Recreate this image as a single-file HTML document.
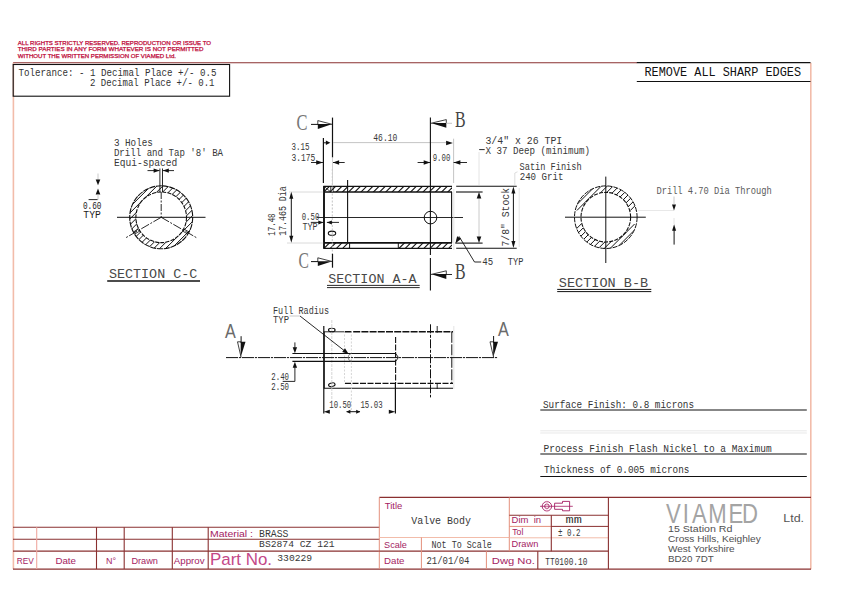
<!DOCTYPE html>
<html><head><meta charset="utf-8"><title>Valve Body TT0100.10</title>
<style>
html,body{margin:0;padding:0;background:#fff;}
body{width:842px;height:595px;overflow:hidden;}
svg{display:block;}
text{white-space:pre;}
</style></head><body>
<svg width="842" height="595" viewBox="0 0 842 595">
<rect x="0" y="0" width="842" height="595" fill="#fff"/>
<line x1="13.0" y1="62.7" x2="637.0" y2="62.7" stroke="#8a3030" stroke-width="1.1"/>
<line x1="13.4" y1="62.7" x2="13.4" y2="569.0" stroke="#f2bcaa" stroke-width="1.6"/>
<line x1="810.8" y1="62.7" x2="810.8" y2="569.3" stroke="#f2bcaa" stroke-width="1.6"/>
<line x1="13.0" y1="569.1" x2="811.0" y2="569.1" stroke="#8a3030" stroke-width="1.2"/>
<text x="17.8" y="44.8" font-family='"Liberation Sans", sans-serif' font-size="5.5" fill="#c01040" textLength="193.2" lengthAdjust="spacingAndGlyphs" stroke="#c01040" stroke-width="0.25">ALL RIGHTS STRICTLY RESERVED. REPRODUCTION OR ISSUE TO</text>
<text x="17.8" y="51.1" font-family='"Liberation Sans", sans-serif' font-size="5.5" fill="#c01040" textLength="185.7" lengthAdjust="spacingAndGlyphs" stroke="#c01040" stroke-width="0.25">THIRD PARTIES IN ANY FORM WHATEVER IS NOT PERMITTED</text>
<text x="17.8" y="57.6" font-family='"Liberation Sans", sans-serif' font-size="5.5" fill="#c01040" textLength="158.2" lengthAdjust="spacingAndGlyphs" stroke="#c01040" stroke-width="0.25">WITHOUT THE WRITTEN PERMISSION OF VIAMED Ltd.</text>
<rect x="13.2" y="64.5" width="216.4" height="31.7" fill="none" stroke="#111" stroke-width="1.1"/>
<text x="18.5" y="75.8" font-family='"Liberation Mono", monospace' font-size="10" fill="#333" textLength="198.0" lengthAdjust="spacingAndGlyphs">Tolerance: - 1 Decimal Place +/- 0.5</text>
<text x="90.0" y="85.8" font-family='"Liberation Mono", monospace' font-size="10" fill="#333" textLength="124.5" lengthAdjust="spacingAndGlyphs">2 Decimal Place +/- 0.1</text>
<line x1="636.8" y1="62.6" x2="810.5" y2="62.6" stroke="#111" stroke-width="1.1"/>
<line x1="636.8" y1="81.5" x2="810.5" y2="81.5" stroke="#111" stroke-width="1.1"/>
<text x="644.5" y="76.1" font-family='"Liberation Mono", monospace' font-size="12" fill="#111" textLength="156.5" lengthAdjust="spacingAndGlyphs">REMOVE ALL SHARP EDGES</text>
<line x1="13.0" y1="527.2" x2="379.5" y2="527.2" stroke="#8a3030" stroke-width="1.1"/>
<line x1="13.0" y1="539.2" x2="379.5" y2="539.2" stroke="#8a3030" stroke-width="1.1"/>
<line x1="13.0" y1="551.1" x2="379.5" y2="551.1" stroke="#8a3030" stroke-width="1.1"/>
<line x1="36.7" y1="527.2" x2="36.7" y2="569.0" stroke="#f0a8a0" stroke-width="1.1"/>
<line x1="96.5" y1="527.2" x2="96.5" y2="569.0" stroke="#8a3030" stroke-width="1.1"/>
<line x1="124.2" y1="527.2" x2="124.2" y2="569.0" stroke="#8a3030" stroke-width="1.1"/>
<line x1="172.3" y1="527.2" x2="172.3" y2="569.0" stroke="#8a3030" stroke-width="1.1"/>
<line x1="208.2" y1="527.2" x2="208.2" y2="569.0" stroke="#8a3030" stroke-width="1.1"/>
<text x="16.7" y="563.6" font-family='"Liberation Sans", sans-serif' font-size="9" fill="#a41c62" textLength="17.0" lengthAdjust="spacingAndGlyphs">REV</text>
<text x="55.4" y="563.6" font-family='"Liberation Sans", sans-serif' font-size="9" fill="#a41c62" textLength="20.6" lengthAdjust="spacingAndGlyphs">Date</text>
<text x="106.0" y="563.6" font-family='"Liberation Sans", sans-serif' font-size="9" fill="#a41c62" textLength="10.0" lengthAdjust="spacingAndGlyphs">N°</text>
<text x="131.4" y="563.6" font-family='"Liberation Sans", sans-serif' font-size="9" fill="#a41c62" textLength="26.5" lengthAdjust="spacingAndGlyphs">Drawn</text>
<text x="173.8" y="563.6" font-family='"Liberation Sans", sans-serif' font-size="9" fill="#a41c62" textLength="30.7" lengthAdjust="spacingAndGlyphs">Approv</text>
<text x="210.0" y="536.7" font-family='"Liberation Sans", sans-serif' font-size="9.4" fill="#a41c62" textLength="43.0" lengthAdjust="spacingAndGlyphs">Material :</text>
<text x="259.1" y="536.9" font-family='"Liberation Mono", monospace' font-size="10" fill="#383838" textLength="29.4" lengthAdjust="spacingAndGlyphs">BRASS</text>
<text x="259.1" y="547.0" font-family='"Liberation Mono", monospace' font-size="9.4" fill="#383838" textLength="75.6" lengthAdjust="spacingAndGlyphs">BS2874 CZ 121</text>
<text x="210.0" y="564.8" font-family='"Liberation Sans", sans-serif' font-size="16.3" fill="#c44888" textLength="62.0" lengthAdjust="spacingAndGlyphs">Part No.</text>
<text x="277.3" y="561.0" font-family='"Liberation Mono", monospace' font-size="8.8" fill="#383838" textLength="34.9" lengthAdjust="spacingAndGlyphs">330229</text>
<line x1="379.3" y1="497.4" x2="811.0" y2="497.4" stroke="#8a3030" stroke-width="1.2"/>
<line x1="379.3" y1="497.4" x2="379.3" y2="569.0" stroke="#e4907c" stroke-width="1"/>
<line x1="379.3" y1="537.5" x2="509.3" y2="537.5" stroke="#f2bcaa" stroke-width="1"/>
<line x1="379.3" y1="551.2" x2="608.4" y2="551.2" stroke="#8a3030" stroke-width="1.2"/>
<line x1="421.4" y1="537.5" x2="421.4" y2="569.0" stroke="#e4907c" stroke-width="1"/>
<line x1="486.4" y1="551.2" x2="486.4" y2="569.0" stroke="#e4907c" stroke-width="1"/>
<line x1="509.3" y1="497.4" x2="509.3" y2="551.2" stroke="#e4907c" stroke-width="1"/>
<line x1="509.3" y1="515.3" x2="608.4" y2="515.3" stroke="#8a3030" stroke-width="1.1"/>
<line x1="509.3" y1="526.4" x2="551.3" y2="526.4" stroke="#e4907c" stroke-width="1"/>
<line x1="551.3" y1="526.4" x2="608.4" y2="526.4" stroke="#8a3030" stroke-width="1"/>
<line x1="509.3" y1="537.8" x2="608.4" y2="537.8" stroke="#f2bcaa" stroke-width="1"/>
<line x1="551.3" y1="515.3" x2="551.3" y2="551.2" stroke="#8a3030" stroke-width="1.1"/>
<line x1="537.8" y1="551.2" x2="537.8" y2="569.0" stroke="#8a3030" stroke-width="1.1"/>
<line x1="608.4" y1="497.4" x2="608.4" y2="569.0" stroke="#8a3030" stroke-width="1.1"/>
<text x="384.8" y="508.6" font-family='"Liberation Sans", sans-serif' font-size="9.2" fill="#a41c62" textLength="17.6" lengthAdjust="spacingAndGlyphs">Title</text>
<text x="411.2" y="524.0" font-family='"Liberation Mono", monospace' font-size="10" fill="#383838" textLength="59.8" lengthAdjust="spacingAndGlyphs">Valve Body</text>
<text x="384.1" y="547.6" font-family='"Liberation Sans", sans-serif' font-size="9.2" fill="#a41c62" textLength="22.8" lengthAdjust="spacingAndGlyphs">Scale</text>
<text x="431.5" y="547.6" font-family='"Liberation Mono", monospace' font-size="10" fill="#383838" textLength="60.4" lengthAdjust="spacingAndGlyphs">Not To Scale</text>
<text x="384.1" y="563.6" font-family='"Liberation Sans", sans-serif' font-size="9.2" fill="#a41c62" textLength="20.4" lengthAdjust="spacingAndGlyphs">Date</text>
<text x="426.5" y="564.3" font-family='"Liberation Mono", monospace' font-size="10" fill="#383838" textLength="43.0" lengthAdjust="spacingAndGlyphs">21/01/04</text>
<text x="491.8" y="563.6" font-family='"Liberation Sans", sans-serif' font-size="9.4" fill="#a41c62" textLength="43.0" lengthAdjust="spacingAndGlyphs">Dwg No.</text>
<text x="545.3" y="564.5" font-family='"Liberation Mono", monospace' font-size="10" fill="#383838" textLength="42.0" lengthAdjust="spacingAndGlyphs">TT0100.10</text>
<text x="511.6" y="523.0" font-family='"Liberation Sans", sans-serif' font-size="9.2" fill="#a41c62" textLength="29.5" lengthAdjust="spacingAndGlyphs">Dim  in</text>
<text x="565.5" y="523.3" font-family='"Liberation Mono", monospace' font-size="10" fill="#383838" textLength="16.3" lengthAdjust="spacingAndGlyphs">mm</text>
<text x="512.3" y="535.3" font-family='"Liberation Sans", sans-serif' font-size="9.2" fill="#a41c62" textLength="11.0" lengthAdjust="spacingAndGlyphs">Tol</text>
<text x="558.0" y="535.7" font-family='"Liberation Mono", monospace' font-size="10" fill="#383838" textLength="22.4" lengthAdjust="spacingAndGlyphs">± 0.2</text>
<text x="511.6" y="546.8" font-family='"Liberation Sans", sans-serif' font-size="9.2" fill="#a41c62" textLength="26.7" lengthAdjust="spacingAndGlyphs">Drawn</text>
<circle cx="546.9" cy="506.3" r="4.7" stroke="#a41c62" stroke-width="0.9" fill="none"/>
<circle cx="546.9" cy="506.3" r="2.3" stroke="#a41c62" stroke-width="0.9" fill="none"/>
<line x1="540.0" y1="506.3" x2="572.8" y2="506.3" stroke="#a41c62" stroke-width="0.8"/>
<line x1="546.9" y1="500.5" x2="546.9" y2="512.3" stroke="#f0b0c8" stroke-width="0.7"/>
<path d="M554.6,503.2 L562.5,503.2 L562.5,501.4 L569.6,501.4 L569.6,510.8 L562.5,510.8 L562.5,509.3 L554.6,509.3 Z" stroke="#a41c62" stroke-width="0.9" fill="none"/>
<text transform="translate(666,522.5) scale(0.82,1)" x="0 20.4 31.7 51.4 76.3 92.8" y="0" font-family='"Liberation Sans", sans-serif' font-size="27" fill="#a4a4a4">VIAMED</text>
<text x="783.3" y="521.6" font-family='"Liberation Sans", sans-serif' font-size="11.8" fill="#555" textLength="20.8" lengthAdjust="spacingAndGlyphs">Ltd.</text>
<text x="668.0" y="531.9" font-family='"Liberation Sans", sans-serif' font-size="9.4" fill="#505050" textLength="64.4" lengthAdjust="spacingAndGlyphs">15 Station Rd</text>
<text x="668.0" y="542.1" font-family='"Liberation Sans", sans-serif' font-size="9.4" fill="#505050" textLength="92.8" lengthAdjust="spacingAndGlyphs">Cross Hills, Keighley</text>
<text x="668.0" y="552.3" font-family='"Liberation Sans", sans-serif' font-size="9.4" fill="#505050" textLength="66.7" lengthAdjust="spacingAndGlyphs">West Yorkshire</text>
<text x="668.0" y="561.7" font-family='"Liberation Sans", sans-serif' font-size="9.4" fill="#505050" textLength="45.7" lengthAdjust="spacingAndGlyphs">BD20 7DT</text>
<line x1="540.3" y1="410.0" x2="806.8" y2="410.0" stroke="#111" stroke-width="1.1"/>
<line x1="540.3" y1="430.8" x2="806.8" y2="430.8" stroke="#d8d8d8" stroke-width="0.6"/>
<line x1="540.3" y1="433.0" x2="806.8" y2="433.0" stroke="#d8d8d8" stroke-width="0.6"/>
<line x1="540.3" y1="454.0" x2="806.8" y2="454.0" stroke="#111" stroke-width="1.1"/>
<line x1="540.3" y1="476.5" x2="806.8" y2="476.5" stroke="#111" stroke-width="1.1"/>
<text x="543.0" y="408.0" font-family='"Liberation Mono", monospace' font-size="10" fill="#333" textLength="151.0" lengthAdjust="spacingAndGlyphs">Surface Finish: 0.8 microns</text>
<text x="543.6" y="451.5" font-family='"Liberation Mono", monospace' font-size="10" fill="#333" textLength="228.0" lengthAdjust="spacingAndGlyphs">Process Finish Flash Nickel to a Maximum</text>
<text x="544.1" y="472.8" font-family='"Liberation Mono", monospace' font-size="10" fill="#333" textLength="145.3" lengthAdjust="spacingAndGlyphs">Thickness of 0.005 microns</text>
<clipPath id="hcc"><path clip-rule="evenodd" d="M129.7,217.3 a31.5,31.5 0 1,0 63.0,0 a31.5,31.5 0 1,0 -63.0,0 Z M135.89999999999998,217.3 a25.3,25.3 0 1,0 50.6,0 a25.3,25.3 0 1,0 -50.6,0 Z"/></clipPath>
<g clip-path="url(#hcc)">
<line x1="127.7" y1="108.2" x2="194.7" y2="41.2" stroke="#111" stroke-width="1.0"/>
<line x1="127.7" y1="114.2" x2="194.7" y2="47.2" stroke="#111" stroke-width="1.0"/>
<line x1="127.7" y1="120.1" x2="194.7" y2="53.1" stroke="#111" stroke-width="1.0"/>
<line x1="127.7" y1="126.1" x2="194.7" y2="59.1" stroke="#111" stroke-width="1.0"/>
<line x1="127.7" y1="132.0" x2="194.7" y2="65.0" stroke="#111" stroke-width="1.0"/>
<line x1="127.7" y1="137.9" x2="194.7" y2="70.9" stroke="#111" stroke-width="1.0"/>
<line x1="127.7" y1="143.9" x2="194.7" y2="76.9" stroke="#111" stroke-width="1.0"/>
<line x1="127.7" y1="149.8" x2="194.7" y2="82.8" stroke="#111" stroke-width="1.0"/>
<line x1="127.7" y1="155.8" x2="194.7" y2="88.8" stroke="#111" stroke-width="1.0"/>
<line x1="127.7" y1="161.7" x2="194.7" y2="94.7" stroke="#111" stroke-width="1.0"/>
<line x1="127.7" y1="167.6" x2="194.7" y2="100.6" stroke="#111" stroke-width="1.0"/>
<line x1="127.7" y1="173.6" x2="194.7" y2="106.6" stroke="#111" stroke-width="1.0"/>
<line x1="127.7" y1="179.5" x2="194.7" y2="112.5" stroke="#111" stroke-width="1.0"/>
<line x1="127.7" y1="185.5" x2="194.7" y2="118.5" stroke="#111" stroke-width="1.0"/>
<line x1="127.7" y1="191.4" x2="194.7" y2="124.4" stroke="#111" stroke-width="1.0"/>
<line x1="127.7" y1="197.3" x2="194.7" y2="130.3" stroke="#111" stroke-width="1.0"/>
<line x1="127.7" y1="203.3" x2="194.7" y2="136.3" stroke="#111" stroke-width="1.0"/>
<line x1="127.7" y1="209.2" x2="194.7" y2="142.2" stroke="#111" stroke-width="1.0"/>
<line x1="127.7" y1="215.2" x2="194.7" y2="148.2" stroke="#111" stroke-width="1.0"/>
<line x1="127.7" y1="221.1" x2="194.7" y2="154.1" stroke="#111" stroke-width="1.0"/>
<line x1="127.7" y1="227.0" x2="194.7" y2="160.0" stroke="#111" stroke-width="1.0"/>
<line x1="127.7" y1="233.0" x2="194.7" y2="166.0" stroke="#111" stroke-width="1.0"/>
<line x1="127.7" y1="238.9" x2="194.7" y2="171.9" stroke="#111" stroke-width="1.0"/>
<line x1="127.7" y1="244.9" x2="194.7" y2="177.9" stroke="#111" stroke-width="1.0"/>
<line x1="127.7" y1="250.8" x2="194.7" y2="183.8" stroke="#111" stroke-width="1.0"/>
<line x1="127.7" y1="256.7" x2="194.7" y2="189.7" stroke="#111" stroke-width="1.0"/>
<line x1="127.7" y1="262.7" x2="194.7" y2="195.7" stroke="#111" stroke-width="1.0"/>
<line x1="127.7" y1="268.6" x2="194.7" y2="201.6" stroke="#111" stroke-width="1.0"/>
<line x1="127.7" y1="274.6" x2="194.7" y2="207.6" stroke="#111" stroke-width="1.0"/>
<line x1="127.7" y1="280.5" x2="194.7" y2="213.5" stroke="#111" stroke-width="1.0"/>
<line x1="127.7" y1="286.4" x2="194.7" y2="219.4" stroke="#111" stroke-width="1.0"/>
<line x1="127.7" y1="292.4" x2="194.7" y2="225.4" stroke="#111" stroke-width="1.0"/>
<line x1="127.7" y1="298.3" x2="194.7" y2="231.3" stroke="#111" stroke-width="1.0"/>
<line x1="127.7" y1="304.3" x2="194.7" y2="237.3" stroke="#111" stroke-width="1.0"/>
<line x1="127.7" y1="310.2" x2="194.7" y2="243.2" stroke="#111" stroke-width="1.0"/>
<line x1="127.7" y1="316.1" x2="194.7" y2="249.1" stroke="#111" stroke-width="1.0"/>
<line x1="127.7" y1="322.1" x2="194.7" y2="255.1" stroke="#111" stroke-width="1.0"/>
<line x1="127.7" y1="328.0" x2="194.7" y2="261.0" stroke="#111" stroke-width="1.0"/>
<line x1="127.7" y1="334.0" x2="194.7" y2="267.0" stroke="#111" stroke-width="1.0"/>
<line x1="127.7" y1="339.9" x2="194.7" y2="272.9" stroke="#111" stroke-width="1.0"/>
<line x1="127.7" y1="345.8" x2="194.7" y2="278.8" stroke="#111" stroke-width="1.0"/>
<line x1="127.7" y1="351.8" x2="194.7" y2="284.8" stroke="#111" stroke-width="1.0"/>
<line x1="127.7" y1="357.7" x2="194.7" y2="290.7" stroke="#111" stroke-width="1.0"/>
<line x1="127.7" y1="363.7" x2="194.7" y2="296.7" stroke="#111" stroke-width="1.0"/>
<line x1="127.7" y1="369.6" x2="194.7" y2="302.6" stroke="#111" stroke-width="1.0"/>
<line x1="127.7" y1="375.5" x2="194.7" y2="308.5" stroke="#111" stroke-width="1.0"/>
<line x1="127.7" y1="381.5" x2="194.7" y2="314.5" stroke="#111" stroke-width="1.0"/>
<line x1="127.7" y1="387.4" x2="194.7" y2="320.4" stroke="#111" stroke-width="1.0"/>
</g>
<circle cx="161.2" cy="217.3" r="31.5" stroke="#111" stroke-width="1.1" fill="none" stroke-dasharray="6 0.8"/>
<circle cx="161.2" cy="217.3" r="25.3" stroke="#111" stroke-width="1.1" fill="none" stroke-dasharray="4 1.2"/>
<line x1="117.0" y1="217.3" x2="205.5" y2="217.3" stroke="#111" stroke-width="1"/>
<line x1="159.9" y1="168.5" x2="159.9" y2="192.0" stroke="#111" stroke-width="0.9"/>
<line x1="162.5" y1="168.5" x2="162.5" y2="192.0" stroke="#111" stroke-width="0.9"/>
<line x1="161.2" y1="192.0" x2="161.2" y2="217.3" stroke="#111" stroke-width="0.9" stroke-dasharray="7 1.5 2 1.5"/>
<line x1="161.2" y1="217.3" x2="125.7" y2="237.8" stroke="#111" stroke-width="0.9" stroke-dasharray="9 1.5 2 1.5"/>
<line x1="161.2" y1="217.3" x2="196.7" y2="237.8" stroke="#111" stroke-width="0.9" stroke-dasharray="9 1.5 2 1.5"/>
<line x1="138.7" y1="228.9" x2="133.3" y2="232.0" stroke="#111" stroke-width="0.8"/>
<line x1="139.9" y1="231.0" x2="134.5" y2="234.1" stroke="#111" stroke-width="0.8"/>
<line x1="182.5" y1="231.0" x2="187.9" y2="234.1" stroke="#111" stroke-width="0.8"/>
<line x1="183.7" y1="228.9" x2="189.1" y2="232.0" stroke="#111" stroke-width="0.8"/>
<line x1="147.5" y1="170.6" x2="159.4" y2="170.6" stroke="#111" stroke-width="0.9"/>
<polygon points="159.6,170.6 153.6,172.7 153.6,168.5" fill="#111"/>
<line x1="162.8" y1="170.6" x2="174.0" y2="170.6" stroke="#111" stroke-width="0.9"/>
<polygon points="162.8,170.6 168.8,168.5 168.8,172.7" fill="#111"/>
<text x="113.9" y="145.7" font-family='"Liberation Mono", monospace' font-size="10" fill="#383838" textLength="39.0" lengthAdjust="spacingAndGlyphs">3 Holes</text>
<text x="113.9" y="155.9" font-family='"Liberation Mono", monospace' font-size="10" fill="#383838" textLength="109.2" lengthAdjust="spacingAndGlyphs">Drill and Tap '8' BA</text>
<text x="113.9" y="166.3" font-family='"Liberation Mono", monospace' font-size="10" fill="#383838" textLength="63.4" lengthAdjust="spacingAndGlyphs">Equi-spaced</text>
<text x="82.9" y="208.9" font-family='"Liberation Mono", monospace' font-size="10" fill="#222" textLength="18.5" lengthAdjust="spacingAndGlyphs">0.60</text>
<text x="83.3" y="218.4" font-family='"Liberation Mono", monospace' font-size="10" fill="#222" textLength="17.5" lengthAdjust="spacingAndGlyphs">TYP</text>
<line x1="88.6" y1="199.6" x2="97.7" y2="199.6" stroke="#111" stroke-width="0.9"/>
<line x1="98.0" y1="173.5" x2="98.0" y2="180.0" stroke="#bdbdbd" stroke-width="0.8"/>
<polygon points="98.0,185.3 95.7,179.5 100.3,179.5" fill="#111"/>
<polygon points="98.0,188.6 100.3,194.6 95.7,194.6" fill="#111"/>
<line x1="98.0" y1="194.0" x2="98.0" y2="199.8" stroke="#bdbdbd" stroke-width="0.8"/>
<text x="108.9" y="277.7" font-family='"Liberation Mono", monospace' font-size="13.2" fill="#484848" textLength="88.5" lengthAdjust="spacingAndGlyphs">SECTION C-C</text>
<line x1="107.2" y1="280.9" x2="200.0" y2="280.9" stroke="#111" stroke-width="1.5"/>
<clipPath id="ha1"><rect x="323.3" y="186.3" width="128.7" height="5.7"/></clipPath>
<g clip-path="url(#ha1)">
<line x1="310.4" y1="193.0" x2="318.1" y2="185.3" stroke="#111" stroke-width="1.1"/>
<line x1="316.6" y1="193.0" x2="324.3" y2="185.3" stroke="#111" stroke-width="1.1"/>
<line x1="322.8" y1="193.0" x2="330.5" y2="185.3" stroke="#111" stroke-width="1.1"/>
<line x1="329.0" y1="193.0" x2="336.7" y2="185.3" stroke="#111" stroke-width="1.1"/>
<line x1="335.2" y1="193.0" x2="342.9" y2="185.3" stroke="#111" stroke-width="1.1"/>
<line x1="341.4" y1="193.0" x2="349.1" y2="185.3" stroke="#111" stroke-width="1.1"/>
<line x1="347.6" y1="193.0" x2="355.3" y2="185.3" stroke="#111" stroke-width="1.1"/>
<line x1="353.8" y1="193.0" x2="361.5" y2="185.3" stroke="#111" stroke-width="1.1"/>
<line x1="360.0" y1="193.0" x2="367.7" y2="185.3" stroke="#111" stroke-width="1.1"/>
<line x1="366.2" y1="193.0" x2="373.9" y2="185.3" stroke="#111" stroke-width="1.1"/>
<line x1="372.4" y1="193.0" x2="380.1" y2="185.3" stroke="#111" stroke-width="1.1"/>
<line x1="378.6" y1="193.0" x2="386.3" y2="185.3" stroke="#111" stroke-width="1.1"/>
<line x1="384.8" y1="193.0" x2="392.5" y2="185.3" stroke="#111" stroke-width="1.1"/>
<line x1="391.0" y1="193.0" x2="398.7" y2="185.3" stroke="#111" stroke-width="1.1"/>
<line x1="397.2" y1="193.0" x2="404.9" y2="185.3" stroke="#111" stroke-width="1.1"/>
<line x1="403.4" y1="193.0" x2="411.1" y2="185.3" stroke="#111" stroke-width="1.1"/>
<line x1="409.6" y1="193.0" x2="417.3" y2="185.3" stroke="#111" stroke-width="1.1"/>
<line x1="415.8" y1="193.0" x2="423.5" y2="185.3" stroke="#111" stroke-width="1.1"/>
<line x1="422.0" y1="193.0" x2="429.7" y2="185.3" stroke="#111" stroke-width="1.1"/>
<line x1="428.2" y1="193.0" x2="435.9" y2="185.3" stroke="#111" stroke-width="1.1"/>
<line x1="434.4" y1="193.0" x2="442.1" y2="185.3" stroke="#111" stroke-width="1.1"/>
<line x1="440.6" y1="193.0" x2="448.3" y2="185.3" stroke="#111" stroke-width="1.1"/>
<line x1="446.8" y1="193.0" x2="454.5" y2="185.3" stroke="#111" stroke-width="1.1"/>
<line x1="453.0" y1="193.0" x2="460.7" y2="185.3" stroke="#111" stroke-width="1.1"/>
</g>
<clipPath id="ha2"><rect x="323.3" y="242.9" width="26.3" height="5.4"/></clipPath>
<g clip-path="url(#ha2)">
<line x1="310.7" y1="249.3" x2="318.1" y2="241.9" stroke="#111" stroke-width="1.1"/>
<line x1="316.9" y1="249.3" x2="324.3" y2="241.9" stroke="#111" stroke-width="1.1"/>
<line x1="323.1" y1="249.3" x2="330.5" y2="241.9" stroke="#111" stroke-width="1.1"/>
<line x1="329.3" y1="249.3" x2="336.7" y2="241.9" stroke="#111" stroke-width="1.1"/>
<line x1="335.5" y1="249.3" x2="342.9" y2="241.9" stroke="#111" stroke-width="1.1"/>
<line x1="341.7" y1="249.3" x2="349.1" y2="241.9" stroke="#111" stroke-width="1.1"/>
<line x1="347.9" y1="249.3" x2="355.3" y2="241.9" stroke="#111" stroke-width="1.1"/>
<line x1="354.1" y1="249.3" x2="361.5" y2="241.9" stroke="#111" stroke-width="1.1"/>
</g>
<clipPath id="ha3"><rect x="398.3" y="242.9" width="53.7" height="5.4"/></clipPath>
<g clip-path="url(#ha3)">
<line x1="385.7" y1="249.3" x2="393.1" y2="241.9" stroke="#111" stroke-width="1.1"/>
<line x1="391.9" y1="249.3" x2="399.3" y2="241.9" stroke="#111" stroke-width="1.1"/>
<line x1="398.1" y1="249.3" x2="405.5" y2="241.9" stroke="#111" stroke-width="1.1"/>
<line x1="404.3" y1="249.3" x2="411.7" y2="241.9" stroke="#111" stroke-width="1.1"/>
<line x1="410.5" y1="249.3" x2="417.9" y2="241.9" stroke="#111" stroke-width="1.1"/>
<line x1="416.7" y1="249.3" x2="424.1" y2="241.9" stroke="#111" stroke-width="1.1"/>
<line x1="422.9" y1="249.3" x2="430.3" y2="241.9" stroke="#111" stroke-width="1.1"/>
<line x1="429.1" y1="249.3" x2="436.5" y2="241.9" stroke="#111" stroke-width="1.1"/>
<line x1="435.3" y1="249.3" x2="442.7" y2="241.9" stroke="#111" stroke-width="1.1"/>
<line x1="441.5" y1="249.3" x2="448.9" y2="241.9" stroke="#111" stroke-width="1.1"/>
<line x1="447.7" y1="249.3" x2="455.1" y2="241.9" stroke="#111" stroke-width="1.1"/>
<line x1="453.9" y1="249.3" x2="461.3" y2="241.9" stroke="#111" stroke-width="1.1"/>
</g>
<line x1="323.3" y1="186.3" x2="452.0" y2="186.3" stroke="#111" stroke-width="1.2"/>
<line x1="323.3" y1="192.0" x2="452.0" y2="192.0" stroke="#111" stroke-width="1.6"/>
<line x1="323.3" y1="242.9" x2="452.0" y2="242.9" stroke="#111" stroke-width="1.8"/>
<line x1="323.3" y1="248.3" x2="452.0" y2="248.3" stroke="#111" stroke-width="1.2"/>
<line x1="324.0" y1="186.3" x2="324.0" y2="248.3" stroke="#111" stroke-width="1.9"/>
<line x1="451.6" y1="192.0" x2="451.6" y2="242.9" stroke="#111" stroke-width="1.1"/>
<line x1="349.6" y1="242.9" x2="349.6" y2="248.3" stroke="#111" stroke-width="1"/>
<line x1="398.3" y1="242.9" x2="398.3" y2="248.3" stroke="#111" stroke-width="1"/>
<line x1="347.6" y1="180.0" x2="347.6" y2="242.9" stroke="#111" stroke-width="1.1"/>
<line x1="316.6" y1="217.5" x2="463.0" y2="217.5" stroke="#111" stroke-width="0.9"/>
<circle cx="430.5" cy="217.6" r="6.3" stroke="#111" stroke-width="1" fill="none"/>
<ellipse cx="332.0" cy="233.2" rx="3.7" ry="2.1" stroke="#111" stroke-width="1.1" fill="none" transform="rotate(0 332.0 233.2)"/>
<line x1="330.8" y1="186.3" x2="330.8" y2="192.0" stroke="#111" stroke-width="0.9"/>
<line x1="333.0" y1="186.3" x2="333.0" y2="192.0" stroke="#111" stroke-width="0.9"/>
<line x1="324.0" y1="186.3" x2="330.8" y2="192.0" stroke="#111" stroke-width="0.8"/>
<line x1="332.3" y1="169.0" x2="332.3" y2="265.0" stroke="#bdbdbd" stroke-width="0.9" stroke-dasharray="2 1.5"/>
<line x1="456.2" y1="186.3" x2="516.7" y2="186.3" stroke="#111" stroke-width="1.1"/>
<line x1="456.2" y1="248.3" x2="516.7" y2="248.3" stroke="#111" stroke-width="1.1"/>
<line x1="456.0" y1="192.0" x2="482.6" y2="192.0" stroke="#111" stroke-width="1.1"/>
<line x1="455.4" y1="243.1" x2="482.6" y2="243.1" stroke="#111" stroke-width="1.1"/>
<line x1="453.6" y1="138.7" x2="453.6" y2="183.0" stroke="#bdbdbd" stroke-width="0.9"/>
<line x1="453.8" y1="189.0" x2="453.8" y2="250.0" stroke="#ddd" stroke-width="0.8"/>
<line x1="479.0" y1="198.0" x2="479.0" y2="237.0" stroke="#bdbdbd" stroke-width="0.8"/>
<polygon points="479.0,191.9 481.3,198.4 476.7,198.4" fill="#111"/>
<polygon points="479.0,242.9 476.7,236.4 481.3,236.4" fill="#111"/>
<line x1="513.4" y1="193.0" x2="513.4" y2="242.0" stroke="#111" stroke-width="1"/>
<polygon points="513.4,186.4 515.4,193.4 511.4,193.4" fill="#111"/>
<polygon points="513.4,248.1 511.4,241.1 515.4,241.1" fill="#111"/>
<line x1="519.2" y1="188.0" x2="519.2" y2="247.0" stroke="#ddd" stroke-width="0.8"/>
<text x="508.8" y="246.5" font-family='"Liberation Mono", monospace' font-size="10" fill="#383838" textLength="58.5" lengthAdjust="spacingAndGlyphs" transform="rotate(-90 508.8 246.5)">7/8" Stock</text>
<line x1="289.0" y1="192.0" x2="323.3" y2="192.0" stroke="#d0d0d0" stroke-width="0.8"/>
<line x1="287.0" y1="243.0" x2="323.3" y2="243.0" stroke="#d0d0d0" stroke-width="0.8"/>
<line x1="291.3" y1="198.0" x2="291.3" y2="236.0" stroke="#111" stroke-width="1"/>
<polygon points="291.3,191.7 293.3,198.7 289.3,198.7" fill="#111"/>
<polygon points="291.3,242.8 289.3,235.8 293.3,235.8" fill="#111"/>
<text x="275.3" y="235.8" font-family='"Liberation Mono", monospace' font-size="10" fill="#383838" textLength="22.4" lengthAdjust="spacingAndGlyphs" transform="rotate(-90 275.3 235.8)">17.48</text>
<text x="286.2" y="235.8" font-family='"Liberation Mono", monospace' font-size="10" fill="#383838" textLength="49.4" lengthAdjust="spacingAndGlyphs" transform="rotate(-90 286.2 235.8)">17.465 Dia</text>
<text x="301.7" y="220.4" font-family='"Liberation Mono", monospace' font-size="10" fill="#383838" textLength="17.6" lengthAdjust="spacingAndGlyphs">0.50</text>
<text x="302.5" y="229.7" font-family='"Liberation Mono", monospace' font-size="10" fill="#383838" textLength="15.1" lengthAdjust="spacingAndGlyphs">TYP</text>
<line x1="310.8" y1="222.4" x2="323.3" y2="222.4" stroke="#111" stroke-width="0.9"/>
<polygon points="323.3,222.4 318.3,224.4 318.3,220.4" fill="#111"/>
<polygon points="326.9,222.4 331.9,220.4 331.9,224.4" fill="#111"/>
<line x1="326.9" y1="222.4" x2="339.0" y2="222.4" stroke="#111" stroke-width="0.9"/>
<line x1="323.4" y1="138.0" x2="323.4" y2="183.0" stroke="#111" stroke-width="1.2"/>
<line x1="332.5" y1="117.6" x2="332.5" y2="157.5" stroke="#111" stroke-width="1.2"/>
<line x1="332.5" y1="157.5" x2="332.5" y2="186.0" stroke="#ccc" stroke-width="0.9"/>
<line x1="333.0" y1="142.6" x2="446.0" y2="142.6" stroke="#bdbdbd" stroke-width="0.9"/>
<line x1="323.4" y1="142.8" x2="327.0" y2="142.8" stroke="#111" stroke-width="1.0"/>
<polygon points="330.4,142.8 325.9,145.0 325.9,140.6" fill="#111"/>
<polygon points="452.9,143.0 446.1,145.2 446.1,140.8" fill="#111"/>
<text x="373.3" y="140.8" font-family='"Liberation Mono", monospace' font-size="10" fill="#383838" textLength="24.0" lengthAdjust="spacingAndGlyphs">46.10</text>
<text x="291.4" y="150.4" font-family='"Liberation Mono", monospace' font-size="10" fill="#383838" textLength="18.0" lengthAdjust="spacingAndGlyphs">3.15</text>
<text x="291.4" y="160.5" font-family='"Liberation Mono", monospace' font-size="10" fill="#383838" textLength="23.9" lengthAdjust="spacingAndGlyphs">3.175</text>
<line x1="311.0" y1="162.5" x2="323.4" y2="162.5" stroke="#111" stroke-width="0.9"/>
<polygon points="323.0,162.5 316.2,164.8 316.2,160.2" fill="#111"/>
<polygon points="332.9,162.5 339.1,160.2 339.1,164.8" fill="#111"/>
<line x1="333.0" y1="162.5" x2="344.7" y2="162.5" stroke="#111" stroke-width="0.9"/>
<line x1="417.6" y1="162.5" x2="430.5" y2="162.5" stroke="#111" stroke-width="0.9"/>
<polygon points="430.2,162.5 423.7,164.8 423.7,160.2" fill="#111"/>
<polygon points="453.6,162.5 460.4,160.2 460.4,164.8" fill="#111"/>
<line x1="453.6" y1="162.5" x2="467.0" y2="162.5" stroke="#111" stroke-width="0.9"/>
<text x="432.7" y="161.3" font-family='"Liberation Mono", monospace' font-size="10" fill="#383838" textLength="17.6" lengthAdjust="spacingAndGlyphs">9.00</text>
<line x1="430.4" y1="117.6" x2="430.4" y2="255.1" stroke="#111" stroke-width="1.1"/>
<line x1="430.4" y1="258.1" x2="430.4" y2="290.4" stroke="#111" stroke-width="1.1"/>
<polygon points="430.8,122.9 446.3,127.7 446.3,122.9" fill="#111"/>
<path d="M430.8,123.3 L446.3,119.6 L446.3,123.3" stroke="#111" stroke-width="0.8" fill="none"/>
<line x1="446.0" y1="123.3" x2="452.0" y2="123.3" stroke="#bdbdbd" stroke-width="0.9"/>
<polygon points="430.8,274.1 446.3,278.9 446.3,274.1" fill="#111"/>
<path d="M430.8,274.5 L446.3,270.8 L446.3,274.5" stroke="#111" stroke-width="0.8" fill="none"/>
<line x1="446.0" y1="274.5" x2="452.0" y2="274.5" stroke="#111" stroke-width="0.9"/>
<text x="454.9" y="126.9" font-family='"Liberation Serif", serif' font-size="22.6" fill="#444" textLength="10.6" lengthAdjust="spacingAndGlyphs">B</text>
<text x="454.9" y="278.6" font-family='"Liberation Serif", serif' font-size="22.6" fill="#444" textLength="10.6" lengthAdjust="spacingAndGlyphs">B</text>
<polygon points="332.4,124.0 317.8,128.9 317.8,124.0" fill="#111"/>
<path d="M332.4,124.4 L317.8,120.6 L317.8,124.4" stroke="#111" stroke-width="0.8" fill="none"/>
<line x1="311.0" y1="124.4" x2="318.0" y2="124.4" stroke="#111" stroke-width="1"/>
<polygon points="332.4,261.2 317.8,266.1 317.8,261.2" fill="#111"/>
<path d="M332.4,261.6 L317.8,257.8 L317.8,261.6" stroke="#111" stroke-width="0.8" fill="none"/>
<line x1="311.0" y1="261.6" x2="318.0" y2="261.6" stroke="#111" stroke-width="1"/>
<line x1="332.5" y1="253.8" x2="332.5" y2="267.7" stroke="#111" stroke-width="1.2"/>
<text x="296.6" y="130.2" font-family='"Liberation Serif", serif' font-size="22.6" fill="#777" textLength="11.0" lengthAdjust="spacingAndGlyphs">C</text>
<text x="298.6" y="267.8" font-family='"Liberation Serif", serif' font-size="22.6" fill="#777" textLength="10.4" lengthAdjust="spacingAndGlyphs">C</text>
<text x="485.4" y="143.7" font-family='"Liberation Mono", monospace' font-size="10" fill="#383838" textLength="76.9" lengthAdjust="spacingAndGlyphs">3/4" x 26 TPI</text>
<line x1="479.2" y1="149.6" x2="484.7" y2="149.6" stroke="#111" stroke-width="0.9"/>
<text x="485.4" y="153.9" font-family='"Liberation Mono", monospace' font-size="10" fill="#383838" textLength="104.7" lengthAdjust="spacingAndGlyphs">X 37 Deep (minimum)</text>
<line x1="479.0" y1="152.0" x2="479.0" y2="185.0" stroke="#ddd" stroke-width="0.8"/>
<text x="519.6" y="169.7" font-family='"Liberation Mono", monospace' font-size="10" fill="#383838" textLength="62.0" lengthAdjust="spacingAndGlyphs">Satin Finish</text>
<text x="519.7" y="179.8" font-family='"Liberation Mono", monospace' font-size="10" fill="#383838" textLength="43.7" lengthAdjust="spacingAndGlyphs">240 Grit</text>
<path d="M514.8,185.5 L514.8,173 L517.5,171.8" stroke="#d4d4d4" stroke-width="0.8" fill="none"/>
<polygon points="455.4,243.4 457.1,236.2 461.1,238.7" fill="#111"/>
<path d="M459,236.3 L474.5,262 L481.2,262" stroke="#111" stroke-width="0.9" fill="none"/>
<text x="482.3" y="265.0" font-family='"Liberation Mono", monospace' font-size="10" fill="#383838" textLength="10.9" lengthAdjust="spacingAndGlyphs">45</text>
<text x="507.8" y="265.0" font-family='"Liberation Mono", monospace' font-size="10" fill="#383838" textLength="15.6" lengthAdjust="spacingAndGlyphs">TYP</text>
<text x="328.3" y="283.0" font-family='"Liberation Mono", monospace' font-size="13.2" fill="#484848" textLength="88.2" lengthAdjust="spacingAndGlyphs">SECTION A-A</text>
<line x1="327.0" y1="285.4" x2="419.7" y2="285.4" stroke="#111" stroke-width="0.9"/>
<line x1="327.0" y1="287.6" x2="419.7" y2="287.6" stroke="#111" stroke-width="0.9"/>
<clipPath id="hbb"><path clip-rule="evenodd" d="M574.5,217.2 a31.3,31.3 0 1,0 62.6,0 a31.3,31.3 0 1,0 -62.6,0 Z M581.0,217.2 a24.8,24.8 0 1,0 49.6,0 a24.8,24.8 0 1,0 -49.6,0 Z"/></clipPath>
<g clip-path="url(#hbb)">
<clipPath id="hbbb"><rect x="572.5" y="183.9" width="66.6" height="26.5"/><rect x="572.5" y="224.0" width="66.6" height="26.5"/></clipPath>
<g clip-path="url(#hbbb)">
<line x1="572.5" y1="107.9" x2="639.1" y2="41.3" stroke="#111" stroke-width="1.0"/>
<line x1="572.5" y1="113.9" x2="639.1" y2="47.3" stroke="#111" stroke-width="1.0"/>
<line x1="572.5" y1="119.8" x2="639.1" y2="53.2" stroke="#111" stroke-width="1.0"/>
<line x1="572.5" y1="125.8" x2="639.1" y2="59.2" stroke="#111" stroke-width="1.0"/>
<line x1="572.5" y1="131.7" x2="639.1" y2="65.1" stroke="#111" stroke-width="1.0"/>
<line x1="572.5" y1="137.6" x2="639.1" y2="71.0" stroke="#111" stroke-width="1.0"/>
<line x1="572.5" y1="143.6" x2="639.1" y2="77.0" stroke="#111" stroke-width="1.0"/>
<line x1="572.5" y1="149.5" x2="639.1" y2="82.9" stroke="#111" stroke-width="1.0"/>
<line x1="572.5" y1="155.5" x2="639.1" y2="88.9" stroke="#111" stroke-width="1.0"/>
<line x1="572.5" y1="161.4" x2="639.1" y2="94.8" stroke="#111" stroke-width="1.0"/>
<line x1="572.5" y1="167.3" x2="639.1" y2="100.7" stroke="#111" stroke-width="1.0"/>
<line x1="572.5" y1="173.3" x2="639.1" y2="106.7" stroke="#111" stroke-width="1.0"/>
<line x1="572.5" y1="179.2" x2="639.1" y2="112.6" stroke="#111" stroke-width="1.0"/>
<line x1="572.5" y1="185.2" x2="639.1" y2="118.6" stroke="#111" stroke-width="1.0"/>
<line x1="572.5" y1="191.1" x2="639.1" y2="124.5" stroke="#111" stroke-width="1.0"/>
<line x1="572.5" y1="197.0" x2="639.1" y2="130.4" stroke="#111" stroke-width="1.0"/>
<line x1="572.5" y1="203.0" x2="639.1" y2="136.4" stroke="#111" stroke-width="1.0"/>
<line x1="572.5" y1="208.9" x2="639.1" y2="142.3" stroke="#111" stroke-width="1.0"/>
<line x1="572.5" y1="214.9" x2="639.1" y2="148.3" stroke="#111" stroke-width="1.0"/>
<line x1="572.5" y1="220.8" x2="639.1" y2="154.2" stroke="#111" stroke-width="1.0"/>
<line x1="572.5" y1="226.7" x2="639.1" y2="160.1" stroke="#111" stroke-width="1.0"/>
<line x1="572.5" y1="232.7" x2="639.1" y2="166.1" stroke="#111" stroke-width="1.0"/>
<line x1="572.5" y1="238.6" x2="639.1" y2="172.0" stroke="#111" stroke-width="1.0"/>
<line x1="572.5" y1="244.6" x2="639.1" y2="178.0" stroke="#111" stroke-width="1.0"/>
<line x1="572.5" y1="250.5" x2="639.1" y2="183.9" stroke="#111" stroke-width="1.0"/>
<line x1="572.5" y1="256.4" x2="639.1" y2="189.8" stroke="#111" stroke-width="1.0"/>
<line x1="572.5" y1="262.4" x2="639.1" y2="195.8" stroke="#111" stroke-width="1.0"/>
<line x1="572.5" y1="268.3" x2="639.1" y2="201.7" stroke="#111" stroke-width="1.0"/>
<line x1="572.5" y1="274.3" x2="639.1" y2="207.7" stroke="#111" stroke-width="1.0"/>
<line x1="572.5" y1="280.2" x2="639.1" y2="213.6" stroke="#111" stroke-width="1.0"/>
<line x1="572.5" y1="286.1" x2="639.1" y2="219.5" stroke="#111" stroke-width="1.0"/>
<line x1="572.5" y1="292.1" x2="639.1" y2="225.5" stroke="#111" stroke-width="1.0"/>
<line x1="572.5" y1="298.0" x2="639.1" y2="231.4" stroke="#111" stroke-width="1.0"/>
<line x1="572.5" y1="304.0" x2="639.1" y2="237.4" stroke="#111" stroke-width="1.0"/>
<line x1="572.5" y1="309.9" x2="639.1" y2="243.3" stroke="#111" stroke-width="1.0"/>
<line x1="572.5" y1="315.8" x2="639.1" y2="249.2" stroke="#111" stroke-width="1.0"/>
<line x1="572.5" y1="321.8" x2="639.1" y2="255.2" stroke="#111" stroke-width="1.0"/>
<line x1="572.5" y1="327.7" x2="639.1" y2="261.1" stroke="#111" stroke-width="1.0"/>
<line x1="572.5" y1="333.7" x2="639.1" y2="267.1" stroke="#111" stroke-width="1.0"/>
<line x1="572.5" y1="339.6" x2="639.1" y2="273.0" stroke="#111" stroke-width="1.0"/>
<line x1="572.5" y1="345.5" x2="639.1" y2="278.9" stroke="#111" stroke-width="1.0"/>
<line x1="572.5" y1="351.5" x2="639.1" y2="284.9" stroke="#111" stroke-width="1.0"/>
<line x1="572.5" y1="357.4" x2="639.1" y2="290.8" stroke="#111" stroke-width="1.0"/>
<line x1="572.5" y1="363.4" x2="639.1" y2="296.8" stroke="#111" stroke-width="1.0"/>
<line x1="572.5" y1="369.3" x2="639.1" y2="302.7" stroke="#111" stroke-width="1.0"/>
<line x1="572.5" y1="375.2" x2="639.1" y2="308.6" stroke="#111" stroke-width="1.0"/>
<line x1="572.5" y1="381.2" x2="639.1" y2="314.6" stroke="#111" stroke-width="1.0"/>
<line x1="572.5" y1="387.1" x2="639.1" y2="320.5" stroke="#111" stroke-width="1.0"/>
</g>
</g>
<circle cx="605.8" cy="217.2" r="31.3" stroke="#111" stroke-width="1.0" fill="none" stroke-dasharray="5 1.2"/>
<circle cx="605.8" cy="217.2" r="24.8" stroke="#111" stroke-width="1.1" fill="none" stroke-dasharray="4 1.2"/>
<line x1="565.0" y1="217.2" x2="645.8" y2="217.2" stroke="#111" stroke-width="1"/>
<line x1="605.8" y1="176.6" x2="605.8" y2="263.0" stroke="#111" stroke-width="1"/>
<text x="558.8" y="287.0" font-family='"Liberation Mono", monospace' font-size="13.2" fill="#484848" textLength="89.4" lengthAdjust="spacingAndGlyphs">SECTION B-B</text>
<line x1="557.2" y1="289.4" x2="651.3" y2="289.4" stroke="#111" stroke-width="1.0"/>
<line x1="557.2" y1="291.6" x2="651.3" y2="291.6" stroke="#111" stroke-width="1.0"/>
<text x="656.4" y="193.8" font-family='"Liberation Mono", monospace' font-size="10" fill="#5c5c5c" textLength="115.4" lengthAdjust="spacingAndGlyphs">Drill 4.70 Dia Through</text>
<line x1="638.0" y1="210.5" x2="674.0" y2="210.5" stroke="#e2e2e2" stroke-width="0.8"/>
<line x1="674.0" y1="196.5" x2="674.0" y2="204.0" stroke="#bdbdbd" stroke-width="0.8"/>
<polygon points="674.0,210.5 672.0,204.5 676.0,204.5" fill="#111"/>
<polygon points="674.1,224.2 676.1,230.7 672.1,230.7" fill="#111"/>
<line x1="674.1" y1="230.0" x2="674.1" y2="244.6" stroke="#111" stroke-width="1"/>
<line x1="674.0" y1="218.0" x2="674.0" y2="224.0" stroke="#ddd" stroke-width="0.8"/>
<line x1="323.8" y1="326.0" x2="323.8" y2="413.4" stroke="#111" stroke-width="1.2"/>
<line x1="324.2" y1="331.8" x2="324.2" y2="388.2" stroke="#111" stroke-width="1.1"/>
<line x1="323.8" y1="331.8" x2="345.0" y2="331.8" stroke="#111" stroke-width="0.9"/>
<line x1="345.0" y1="331.8" x2="453.0" y2="331.8" stroke="#111" stroke-width="1.5" stroke-dasharray="7 1.2"/>
<line x1="345.0" y1="383.4" x2="453.0" y2="383.4" stroke="#111" stroke-width="1.1" stroke-dasharray="6 1.5"/>
<line x1="323.8" y1="388.2" x2="453.0" y2="388.2" stroke="#111" stroke-width="1.1"/>
<line x1="451.8" y1="331.8" x2="451.8" y2="383.4" stroke="#111" stroke-width="1.0" stroke-dasharray="11 1.5"/>
<line x1="453.8" y1="326.0" x2="453.8" y2="389.0" stroke="#ddd" stroke-width="0.8"/>
<ellipse cx="331.8" cy="330.1" rx="3.3" ry="1.8" stroke="#111" stroke-width="1.1" fill="none" transform="rotate(0 331.8 330.1)"/>
<ellipse cx="331.8" cy="384.7" rx="3.3" ry="1.8" stroke="#111" stroke-width="1.1" fill="none" transform="rotate(-12 331.8 384.7)"/>
<line x1="331.8" y1="320.0" x2="331.8" y2="402.0" stroke="#ccc" stroke-width="0.8" stroke-dasharray="3 1"/>
<line x1="344.5" y1="331.0" x2="344.5" y2="384.0" stroke="#ccc" stroke-width="0.8" stroke-dasharray="2 1.5"/>
<line x1="351.4" y1="331.0" x2="351.4" y2="411.0" stroke="#ccc" stroke-width="0.8" stroke-dasharray="2 1.5"/>
<line x1="226.0" y1="357.6" x2="497.5" y2="357.6" stroke="#111" stroke-width="1.0" stroke-dasharray="12 0.9 2.2 0.9"/>
<line x1="292.4" y1="353.5" x2="395.7" y2="353.5" stroke="#111" stroke-width="1.2"/>
<line x1="292.4" y1="361.4" x2="395.7" y2="361.4" stroke="#111" stroke-width="1.2"/>
<path d="M395.7,353.5 L398.4,357.5 L395.7,361.4" stroke="#111" stroke-width="0.9" fill="none"/>
<path d="M351.5,353.5 A4,4 0 0,0 351.5,361.4" stroke="#777" stroke-width="0.8" fill="none"/>
<line x1="395.6" y1="336.9" x2="395.6" y2="383.4" stroke="#111" stroke-width="1.1" stroke-dasharray="6 1.5"/>
<line x1="395.4" y1="383.4" x2="395.4" y2="413.4" stroke="#111" stroke-width="1.2"/>
<line x1="430.5" y1="324.3" x2="430.5" y2="397.4" stroke="#111" stroke-width="1.0" stroke-dasharray="9 1.5 3 1.5"/>
<line x1="437.2" y1="326.0" x2="437.2" y2="332.7" stroke="#111" stroke-width="0.9"/>
<line x1="437.2" y1="384.0" x2="437.2" y2="389.0" stroke="#111" stroke-width="0.9"/>
<text x="273.0" y="313.5" font-family='"Liberation Mono", monospace' font-size="10" fill="#383838" textLength="56.0" lengthAdjust="spacingAndGlyphs">Full Radius</text>
<text x="273.0" y="323.1" font-family='"Liberation Mono", monospace' font-size="10" fill="#383838" textLength="16.0" lengthAdjust="spacingAndGlyphs">TYP</text>
<line x1="289.5" y1="316.0" x2="300.0" y2="316.0" stroke="#bdbdbd" stroke-width="0.8"/>
<line x1="300.0" y1="316.0" x2="345.5" y2="351.6" stroke="#111" stroke-width="0.9"/>
<polygon points="348.7,354.1 342.2,351.9 345.0,348.3" fill="#111"/>
<line x1="294.9" y1="342.4" x2="294.9" y2="348.0" stroke="#111" stroke-width="0.9"/>
<polygon points="294.9,353.3 292.7,347.3 297.1,347.3" fill="#111"/>
<polygon points="294.9,361.7 297.1,367.7 292.7,367.7" fill="#111"/>
<line x1="294.9" y1="367.0" x2="294.9" y2="381.4" stroke="#111" stroke-width="0.9"/>
<line x1="282.7" y1="381.4" x2="294.9" y2="381.4" stroke="#111" stroke-width="0.9"/>
<text x="271.3" y="379.9" font-family='"Liberation Mono", monospace' font-size="10" fill="#383838" textLength="17.7" lengthAdjust="spacingAndGlyphs">2.40</text>
<text x="271.3" y="389.9" font-family='"Liberation Mono", monospace' font-size="10" fill="#383838" textLength="17.7" lengthAdjust="spacingAndGlyphs">2.50</text>
<text x="329.3" y="407.8" font-family='"Liberation Mono", monospace' font-size="10" fill="#383838" textLength="21.9" lengthAdjust="spacingAndGlyphs">10.50</text>
<text x="360.4" y="407.8" font-family='"Liberation Mono", monospace' font-size="10" fill="#383838" textLength="22.2" lengthAdjust="spacingAndGlyphs">15.03</text>
<polygon points="323.8,411.7 329.8,409.7 329.8,413.7" fill="#111"/>
<line x1="346.6" y1="411.7" x2="360.0" y2="411.7" stroke="#111" stroke-width="1"/>
<polygon points="346.4,411.7 350.4,409.7 350.4,413.7" fill="#111"/>
<polygon points="360.2,411.7 356.2,413.7 356.2,409.7" fill="#111"/>
<polygon points="395.3,411.7 388.8,413.7 388.8,409.7" fill="#111"/>
<polygon points="240.7,357.3 245.5,341.8 240.7,341.8" fill="#111"/>
<path d="M241.1,357.3 L237.5,341.8 L241.1,341.8" stroke="#111" stroke-width="0.8" fill="none"/>
<line x1="241.1" y1="336.2" x2="241.1" y2="343.0" stroke="#111" stroke-width="1"/>
<polygon points="493.2,357.3 498.0,341.8 493.2,341.8" fill="#111"/>
<path d="M493.6,357.3 L490.0,341.8 L493.6,341.8" stroke="#111" stroke-width="0.8" fill="none"/>
<line x1="493.6" y1="336.0" x2="493.6" y2="343.0" stroke="#111" stroke-width="1"/>
<text x="225.0" y="338.3" font-family='"Liberation Sans", sans-serif' font-size="19.6" fill="#6a6a6a" textLength="10.8" lengthAdjust="spacingAndGlyphs">A</text>
<text x="497.9" y="336.4" font-family='"Liberation Sans", sans-serif' font-size="19.6" fill="#6a6a6a" textLength="10.8" lengthAdjust="spacingAndGlyphs">A</text>
</svg>
</body></html>
